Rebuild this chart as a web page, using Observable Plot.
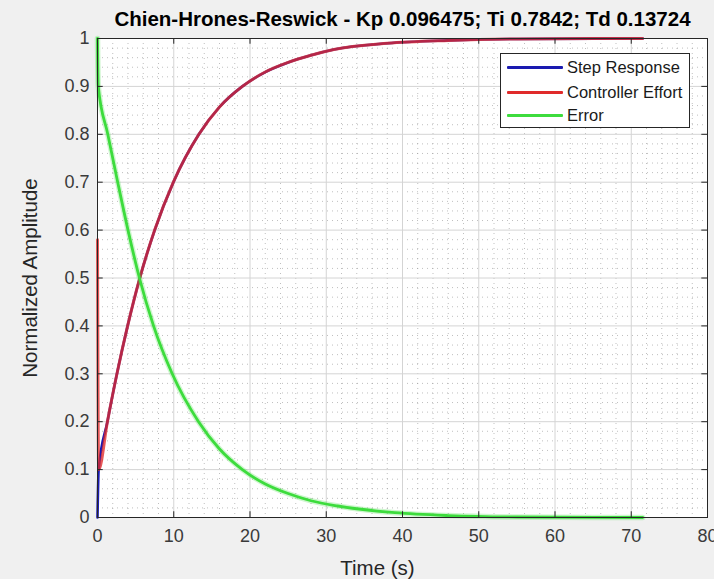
<!DOCTYPE html>
<html>
<head>
<meta charset="utf-8">
<script src="https://cdn.jsdelivr.net/npm/d3@7"></script>
<script src="https://cdn.jsdelivr.net/npm/@observablehq/plot@0.6"></script>
<style>
  body { margin: 0; background: #f0f0f0; }
  #wrap { position: relative; width: 714px; height: 579px; background: #f0f0f0; font-family: "Liberation Sans", Arial, sans-serif; overflow: hidden; }
  #chart { position: absolute; left: 0; top: 0; }
  #title { position: absolute; left: 0; width: 805px; top: 7px; text-align: center; font-weight: bold; font-size: 20.5px; color: #000; white-space: nowrap; }
  #legend { position: absolute; left: 500px; top: 53px; width: 190px; height: 75px; box-sizing: border-box; background: #fff; border: 1px solid #262626; }
  .row { position: absolute; left: 0; height: 20px; width: 100%; }
  .sw { position: absolute; left: 6px; width: 56px; height: 3px; top: 9px; border-radius: 1px; }
  .lab { position: absolute; left: 66px; top: 0; line-height: 20px; font-size: 16.5px; color: #1a1a1a; white-space: nowrap; }
</style>
</head>
<body>
<div id="wrap">
  <div id="chart"></div>
  <div id="title"></div>
  <div id="legend"></div>
</div>
<script>
const titleText = "Chien-Hrones-Reswick - Kp 0.096475; Ti 0.7842; Td 0.13724";
const xLabel = "Time (s)";
const yLabel = "Normalized Amplitude";

const xTicks = [0, 10, 20, 30, 40, 50, 60, 70, 80];
const yTicks = [0, 0.1, 0.2, 0.3, 0.4, 0.5, 0.6, 0.7, 0.8, 0.9, 1];

const seriesNames = ["Step Response", "Controller Effort", "Error"];
const seriesColors = ["#1a1ab0", "#e02a2a", "#3ddc3d"];

// Step response
const stepT = [0, 0.15, 1.3, 2.55, 3.95, 5.55, 7.5, 9.95, 13.3, 16.0, 19.0, 22.0, 25.0, 28.0, 31.0, 38.0, 46.0, 55.0, 71.5];
const stepY = [0, 0.10, 0.20, 0.30, 0.40, 0.50, 0.60, 0.70, 0.80, 0.857, 0.90, 0.93, 0.95, 0.965, 0.977, 0.99, 0.996, 0.999, 1.0];

// Controller effort
const effortT = [0, 0.15, 1.3, 2.55, 3.95, 5.55, 7.5, 9.95, 13.3, 16.0, 19.0, 22.0, 25.0, 28.0, 31.0, 38.0, 46.0, 55.0, 71.5];
const effortY = [0.58, 0.10, 0.20, 0.30, 0.40, 0.50, 0.60, 0.70, 0.80, 0.857, 0.90, 0.93, 0.95, 0.965, 0.977, 0.99, 0.996, 0.999, 1.0];

// Error
const errorT = [0, 0.1, 1.35, 2.65, 4.0, 5.5, 7.35, 9.8, 13.25, 16.0, 19.0, 22.0, 25.0, 28.0, 31.5, 39.0, 46.0, 55.0, 71.5];
const errorY = [1.0, 0.90, 0.80, 0.70, 0.60, 0.50, 0.40, 0.30, 0.20, 0.143, 0.10, 0.07, 0.05, 0.035, 0.024, 0.01, 0.004, 0.001, 0];

const toRows = (ts, ys) => ts.map((t, i) => ({t, v: ys[i]}));
const step = toRows(stepT, stepY);
const effort = toRows(effortT, effortY);
const err = toRows(errorT, errorY);

const xMinor = d3.range(0, 81, 2).filter(v => v % 10 !== 0);
const yMinor = d3.range(0, 51, 1).map(v => v / 50).filter((v, i) => i % 5 !== 0);

const font = "'Liberation Sans', Arial, sans-serif";

const chart = Plot.plot({
  width: 714,
  height: 579,
  marginLeft: 97,
  marginRight: 7,
  marginTop: 38,
  marginBottom: 62,
  style: {background: "transparent", fontFamily: font, fontSize: "18px", color: "#3a3a3a"},
  x: {domain: [0, 80]},
  y: {domain: [0, 1]},
  marks: [
    Plot.frame({fill: "white", stroke: null}),
    Plot.ruleX(xMinor, {stroke: "#8a8a8a", strokeOpacity: 0.55, strokeDasharray: "1,4"}),
    Plot.ruleY(yMinor, {stroke: "#8a8a8a", strokeOpacity: 0.55, strokeDasharray: "1,4"}),
    Plot.ruleX(xTicks, {stroke: "#d4d4d4"}),
    Plot.ruleY(yTicks, {stroke: "#d4d4d4"}),
    Plot.line(step, {x: "t", y: "v", stroke: seriesColors[0], strokeWidth: 2.6, curve: "monotone-x"}),
    Plot.line(effort, {x: "t", y: "v", stroke: seriesColors[1], strokeWidth: 3, strokeOpacity: 0.78, curve: "monotone-x"}),
    Plot.line(err, {x: "t", y: "v", stroke: seriesColors[2], strokeWidth: 5.5, strokeOpacity: 0.25, curve: "monotone-x"}),
    Plot.line(err, {x: "t", y: "v", stroke: seriesColors[2], strokeWidth: 2.8, curve: "monotone-x"}),
    Plot.frame({stroke: "#262626", strokeWidth: 1}),
    Plot.ruleX(xTicks, {y1: 0, y2: 0.012, stroke: "#262626"}),
    Plot.ruleX(xTicks, {y1: 0.988, y2: 1, stroke: "#262626"}),
    Plot.ruleY(yTicks, {x1: 0, x2: 0.75, stroke: "#262626"}),
    Plot.ruleY(yTicks, {x1: 79.25, x2: 80, stroke: "#262626"}),
    Plot.axisX(xTicks, {tickSize: 0, tickPadding: 12, label: null, fontSize: 18, fill: "#3a3a3a"}),
    Plot.axisY(yTicks, {tickSize: 0, tickPadding: 8, label: null, fontSize: 18, fill: "#3a3a3a", tickFormat: d => String(d)}),
    Plot.text([xLabel], {frameAnchor: "bottom", dx: -25, dy: 57, textAnchor: "middle", text: d => d, fontSize: 20.5, fill: "#262626"}),
    Plot.text([yLabel], {frameAnchor: "left", dx: -67, rotate: -90, textAnchor: "middle", text: d => d, fontSize: 20.5, fill: "#262626"})
  ]
});
document.getElementById("chart").appendChild(chart);
document.getElementById("title").textContent = titleText;

const legend = document.getElementById("legend");
const rowTops = [3, 27.5, 51];
seriesNames.forEach((name, i) => {
  const row = document.createElement("div");
  row.className = "row";
  row.style.top = rowTops[i] + "px";
  const sw = document.createElement("div");
  sw.className = "sw";
  sw.style.background = seriesColors[i];
  const lab = document.createElement("div");
  lab.className = "lab";
  lab.textContent = name;
  row.appendChild(sw);
  row.appendChild(lab);
  legend.appendChild(row);
});
</script>
</body>
</html>
